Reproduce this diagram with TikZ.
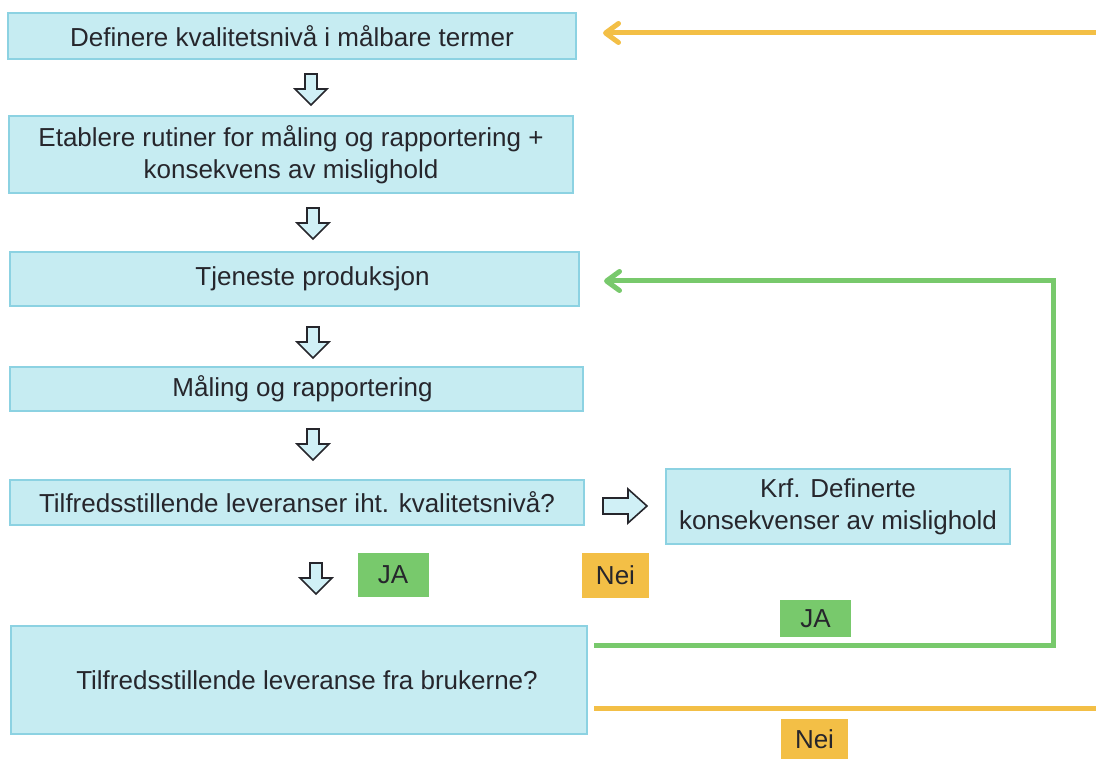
\documentclass[tikz,border=0pt]{standalone}
\usepackage{fontspec}
\setmainfont{Liberation Sans}
\usetikzlibrary{arrows.meta}
\definecolor{boxfill}{RGB}{198,236,242}
\definecolor{boxline}{RGB}{140,210,226}
\definecolor{arrowfill}{RGB}{208,240,246}
\definecolor{inkgray}{RGB}{38,38,44}
\definecolor{jagreen}{RGB}{120,201,108}
\definecolor{neiorange}{RGB}{243,191,70}
\tikzset{
  flowbox/.style={draw=boxline, fill=boxfill, line width=2pt, text=inkgray,
    font=\fontsize{26}{32}\selectfont, align=center, inner sep=0pt},
  answertag/.style={text=inkgray, font=\fontsize{26}{32}\selectfont, inner sep=0pt},
  hollowarrow/.style={draw=inkgray, fill=arrowfill, line width=1.6pt, line join=miter},
  loopline/.style={line width=5pt, -{Straight Barb[length=13pt,width=19pt,line cap=round,line join=round]}}
}
\def\downblock(#1,#2){\draw[hollowarrow] (#1,#2) ++(-6,0) -- ++(12,0) -- ++(0,15) -- ++(10,0) -- ++(-16,16) -- ++(-16,-16) -- ++(10,0) -- cycle;}
\def\rightblock(#1,#2){\draw[hollowarrow] (#1,#2) ++(0,-8) -- ++(25,0) -- ++(0,-9) -- ++(19,17) -- ++(-19,17) -- ++(0,-9) -- ++(-25,0) -- cycle;}

\begin{document}
\begin{tikzpicture}[x=1pt,y=-1pt]
  \useasboundingbox (0,0) rectangle (1096,759);
  %%%%% START %%%%%
  \node[flowbox, minimum width=568pt, minimum height=46pt] (b1) at (292,36) {Definere kvalitetsnivå i målbare termer};
  \node[flowbox, minimum width=564pt, minimum height=77pt] (b2) at (291,154.5) {Etablere rutiner for måling og rapportering +\\konsekvens av mislighold};
  \node[flowbox, minimum width=569pt, minimum height=54pt] (b3) at (294.5,279) {\hspace*{36pt}Tjeneste produksjon};
  \node[flowbox, minimum width=573pt, minimum height=44pt] (b4) at (296.5,389) {\hspace*{12pt}Måling og rapportering};
  \node[flowbox, minimum width=574pt, minimum height=45pt] (b5) at (297,502.5) {Tilfredsstillende leveranser iht. kvalitetsnivå?};
  \node[flowbox, minimum width=344pt, minimum height=75pt] (b6) at (838,506.5) {Krf. Definerte\\konsekvenser av mislighold};
  \node[flowbox, minimum width=576pt, minimum height=108pt] (b7) at (299,680) {\hspace*{16pt}Tilfredsstillende leveranse fra brukerne?};

  \downblock(311,74)
  \downblock(313,208)
  \downblock(313,327)
  \downblock(313,429)
  \downblock(316,563)
  \rightblock(603,506)

  \node[answertag, fill=jagreen, minimum width=71pt, minimum height=44pt] (ja1) at (393,575) {JA};
  \node[answertag, fill=neiorange, minimum width=67pt, minimum height=45pt] (nei1) at (615.5,575.5) {Nei};
  \node[answertag, fill=jagreen, minimum width=71pt, minimum height=37pt] (ja2) at (815.5,618.5) {JA};
  \node[answertag, fill=neiorange, minimum width=67pt, minimum height=41pt] (nei2) at (814.5,739) {Nei};

  % loops back up
  \draw[loopline, draw=jagreen] ([xshift=6pt,yshift=35pt]b7.east) -| ([xshift=473pt,yshift=-2pt]b3.east) -- ([xshift=24pt,yshift=-2pt]b3.east);
  \coordinate (neiout) at (1096,708);
  \coordinate (neiin) at (1096,33);
  \draw[line width=5pt, draw=neiorange] ([xshift=6pt,yshift=-28pt]b7.east) -- (neiout);
  \draw[loopline, draw=neiorange] (neiin) -- ([xshift=26pt,yshift=3pt]b1.east);
  %%%%% END %%%%%
\end{tikzpicture}
\end{document}
